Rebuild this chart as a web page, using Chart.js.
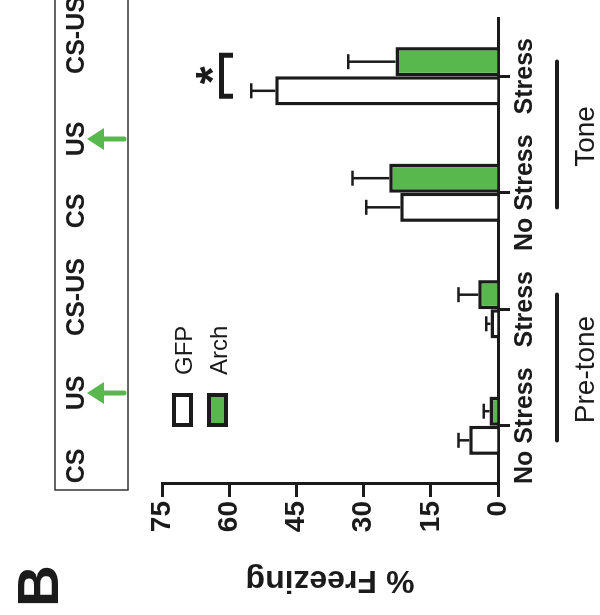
<!DOCTYPE html>
<html><head><meta charset="utf-8">
<script src="https://cdn.jsdelivr.net/npm/chart.js@4.4.1/dist/chart.umd.min.js"></script>
<style>
html,body{margin:0;padding:0;background:#fff;overflow:hidden;width:600px;height:615px;}
#wrap{position:absolute;left:0;top:0;width:615px;height:600px;transform-origin:0 0;transform:translate(0,615px) rotate(-90deg);}
canvas{display:block;}
</style></head><body>
<div id="wrap"><canvas id="c" width="615" height="600"></canvas></div>
<script>
// ---- data ----
const categories = ['No Stress', 'Stress', 'No Stress', 'Stress'];
const seriesNames = ['GFP', 'Arch'];
const gfpMeans = [6.4, 1.7, 21.8, 49.7];
const gfpErrors = [2.4, 0.9, 7.6, 5.4];
const archMeans = [1.9, 4.4, 24.3, 22.9];
const archErrors = [1.3, 4.4, 8.2, 10.5];
const valueTicks = [0, 15, 30, 45, 60, 75];
const groupLabels = ['Pre-tone', 'Tone'];
const protocolLabels = ['CS', 'US', 'CS-US', 'CS', 'US', 'CS-US'];
const arrowAfter = ['US'];
const yTitle = '% Freezing';
const panelLetter = 'B';
const sigMark = '*';
const sigCategory = 3;

// ---- style ----
const INK = '#1b1b1b';
const GREEN = '#58b84e';
const FAM = '"Liberation Sans", Arial, Helvetica, sans-serif';

const overlay = {
  id: 'overlay',
  afterDatasetsDraw(chart) {
    const ctx = chart.ctx, ys = chart.scales.y;
    ctx.save();
    ctx.strokeStyle = INK; ctx.lineWidth = 2.5; ctx.lineCap = 'butt';
    [[gfpMeans, gfpErrors], [archMeans, archErrors]].forEach(([m, e], di) => {
      chart.getDatasetMeta(di).data.forEach((bar, i) => {
        const top = ys.getPixelForValue(m[i]);
        const end = ys.getPixelForValue(m[i] + e[i]);
        ctx.beginPath();
        ctx.moveTo(bar.x, top); ctx.lineTo(bar.x, end);
        ctx.moveTo(bar.x - 7.5, end); ctx.lineTo(bar.x + 7.5, end);
        ctx.stroke();
      });
    });
    ctx.restore();
  },
  afterDraw(chart) {
    const ctx = chart.ctx, xs = chart.scales.x;
    ctx.save();
    ctx.fillStyle = INK; ctx.strokeStyle = INK;
    // panel letter
    ctx.font = 'bold 58px ' + FAM; ctx.textAlign = 'left'; ctx.textBaseline = 'alphabetic';
    ctx.fillText(panelLetter, 8, 58);
    // legend
    const legendColors = ['#ffffff', GREEN];
    seriesNames.forEach((n, i) => {
      const y0 = 172 + i * 35;
      ctx.fillStyle = legendColors[i];
      ctx.fillRect(190, y0 + 2, 30, 17);
      ctx.lineWidth = 4; ctx.strokeStyle = INK;
      ctx.strokeRect(190, y0 + 2, 30, 17);
      ctx.fillStyle = INK;
      ctx.font = '24px ' + FAM; ctx.textAlign = 'left'; ctx.textBaseline = 'alphabetic';
      ctx.fillText(n, 240, y0 + 20);
    });
    // significance bracket
    const sx = xs.getPixelForValue(sigCategory);
    ctx.lineWidth = 5; ctx.lineJoin = 'miter'; ctx.lineCap = 'butt';
    ctx.beginPath();
    ctx.moveTo(sx - 20, 233); ctx.lineTo(sx - 20, 221.5); ctx.lineTo(sx + 21, 221.5); ctx.lineTo(sx + 21, 233);
    ctx.stroke();
    ctx.font = 'bold 46px ' + FAM; ctx.textAlign = 'center';
    ctx.fillText(sigMark, sx + 1, 228);
    // group lines and labels
    groupLabels.forEach((g, gi) => {
      const cx = (xs.getPixelForValue(gi * 2) + xs.getPixelForValue(gi * 2 + 1)) / 2;
      ctx.lineWidth = 4; ctx.lineCap = 'round';
      ctx.beginPath(); ctx.moveTo(cx - 73, 557); ctx.lineTo(cx + 73, 557); ctx.stroke();
      ctx.font = '28px ' + FAM; ctx.textAlign = 'center'; ctx.textBaseline = 'alphabetic';
      ctx.fillText(g, cx - 2, 594);
    });
    // protocol box
    ctx.lineWidth = 1.5; ctx.strokeStyle = '#333';
    ctx.strokeRect(125, 55, 520, 73);
    const px = [149, 222, 318, 404, 476, 580];
    ctx.font = 'bold 25px ' + FAM; ctx.textAlign = 'center'; ctx.fillStyle = INK;
    protocolLabels.forEach((t, i) => {
      ctx.fillText(t, px[i], 84);
      if (arrowAfter.includes(t)) {
        ctx.fillStyle = GREEN; ctx.strokeStyle = GREEN;
        ctx.lineWidth = 5; ctx.lineCap = 'round';
        ctx.beginPath(); ctx.moveTo(px[i], 102); ctx.lineTo(px[i], 124); ctx.stroke();
        ctx.beginPath(); ctx.moveTo(px[i], 87); ctx.lineTo(px[i] - 11, 104); ctx.lineTo(px[i] + 11, 104); ctx.closePath(); ctx.fill();
        ctx.fillStyle = INK; ctx.strokeStyle = '#333';
      }
    });
    ctx.restore();
  }
};

new Chart(document.getElementById('c'), {
  type: 'bar',
  data: {
    labels: categories,
    datasets: [
      { label: seriesNames[0], data: gfpMeans, backgroundColor: '#ffffff', borderColor: INK, borderWidth: 3.5, borderSkipped: 'start', categoryPercentage: 0.5, barPercentage: 1.0 },
      { label: seriesNames[1], data: archMeans, backgroundColor: GREEN, borderColor: INK, borderWidth: 3.5, borderSkipped: 'start', categoryPercentage: 0.5, barPercentage: 1.0 }
    ]
  },
  options: {
    responsive: false, animation: false, devicePixelRatio: 1,
    layout: { padding: { left: 0, top: 162, right: 18, bottom: 0 } },
    plugins: { legend: { display: false }, tooltip: { enabled: false } },
    scales: {
      x: {
        type: 'category', offset: true,
        grid: { offset: false, drawOnChartArea: false, drawTicks: true, tickLength: 12, tickWidth: 3, tickColor: INK },
        border: { display: true, width: 3, color: INK },
        ticks: { color: INK, font: { family: FAM, size: 25, weight: 'bold' }, padding: 0, maxRotation: 0, minRotation: 0, autoSkip: false },
        afterFit(s) { s.height = 102; }
      },
      y: {
        min: 0, max: 75,
        afterBuildTicks(s) { s.ticks = valueTicks.map(v => ({ value: v })); },
        grid: { drawOnChartArea: false, drawTicks: true, tickLength: 13, tickWidth: 3, tickColor: INK },
        border: { display: true, width: 3, color: INK },
        ticks: { color: INK, font: { family: FAM, size: 28, weight: 'bold' }, padding: 4 },
        title: { display: true, text: yTitle, color: INK, font: { family: FAM, size: 32, weight: 'bold' }, padding: { top: 16, bottom: 0 } },
        afterFit(s) { s.width = 131; }
      }
    }
  },
  plugins: [overlay]
});
</script></body></html>
